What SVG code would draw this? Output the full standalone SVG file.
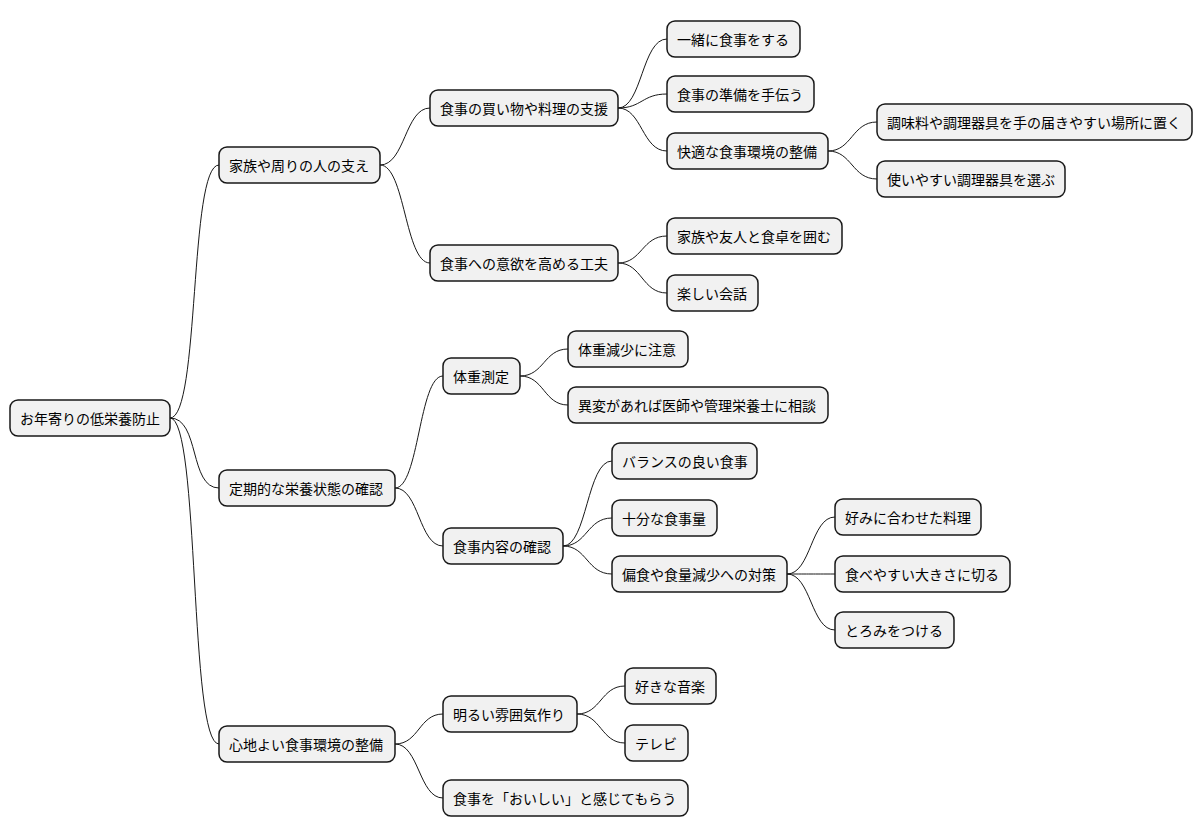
<svg xmlns="http://www.w3.org/2000/svg" width="1202" height="837" viewBox="0 0 1202 837">
<style>
.n rect{fill:#f1f1f1;stroke:#181818;stroke-width:1.5}
.n text{font-family:"Noto Sans CJK JP","Noto Sans",sans-serif;font-size:14px;fill:#000;dominant-baseline:central}
#c path{fill:none;stroke:#181818;stroke-width:1}
</style>
<rect width="1202" height="837" fill="#fff"/>
<g id="c">
<path d="M170,418 C200,418 189,165 219,165"/>
<path d="M170,418 C200,418 189,488 219,488"/>
<path d="M170,418 C200,418 189,744 219,744"/>
<path d="M380,165 C405,165 405,108 430,108"/>
<path d="M380,165 C405,165 405,263 430,263"/>
<path d="M395,488 C419,488 419,376 443,376"/>
<path d="M395,488 C419,488 419,546 443,546"/>
<path d="M395,744 C419,744 419,714 443,714"/>
<path d="M395,744 C419,744 419,798 443,798"/>
<path d="M618,108 C642,108 642,39 667,39"/>
<path d="M618,108 C642,108 642,94 667,94"/>
<path d="M618,108 C642,108 642,151 667,151"/>
<path d="M618,263 C642,263 642,236 667,236"/>
<path d="M618,263 C642,263 642,293 667,293"/>
<path d="M520,376 C544,376 544,349 568,349"/>
<path d="M520,376 C544,376 544,405 568,405"/>
<path d="M563,546 C587,546 587,461 612,461"/>
<path d="M563,546 C587,546 587,518 612,518"/>
<path d="M563,546 C587,546 587,574 612,574"/>
<path d="M577,714 C601,714 601,686 625,686"/>
<path d="M577,714 C601,714 601,743 625,743"/>
<path d="M828,151 C852,151 852,122 877,122"/>
<path d="M828,151 C852,151 852,179 877,179"/>
<path d="M787,574 C811,574 811,517 835,517"/>
<path d="M787,574 C811,574 811,574 835,574"/>
<path d="M787,574 C811,574 811,630 835,630"/>
</g>
<g id="root" class="n"><rect x="10" y="400" width="160" height="36" rx="8"/><text x="20" y="418">お年寄りの低栄養防止</text></g>
<g id="a1" class="n"><rect x="219" y="147" width="161" height="36" rx="8"/><text x="229" y="165">家族や周りの人の支え</text></g>
<g id="a2" class="n"><rect x="219" y="470" width="176" height="36" rx="8"/><text x="229" y="488">定期的な栄養状態の確認</text></g>
<g id="a3" class="n"><rect x="219" y="726" width="176" height="36" rx="8"/><text x="229" y="744">心地よい食事環境の整備</text></g>
<g id="b1" class="n"><rect x="430" y="90" width="188" height="36" rx="8"/><text x="440" y="108">食事の買い物や料理の支援</text></g>
<g id="b2" class="n"><rect x="430" y="245" width="188" height="36" rx="8"/><text x="440" y="263">食事への意欲を高める工夫</text></g>
<g id="b3" class="n"><rect x="443" y="358" width="77" height="36" rx="8"/><text x="453" y="376">体重測定</text></g>
<g id="b4" class="n"><rect x="443" y="528" width="120" height="36" rx="8"/><text x="453" y="546">食事内容の確認</text></g>
<g id="b5" class="n"><rect x="443" y="696" width="134" height="36" rx="8"/><text x="453" y="714">明るい雰囲気作り</text></g>
<g id="b6" class="n"><rect x="443" y="780" width="245" height="36" rx="8"/><text x="453" y="798">食事を「おいしい」と感じてもらう</text></g>
<g id="c1" class="n"><rect x="667" y="21" width="133" height="36" rx="8"/><text x="677" y="39">一緒に食事をする</text></g>
<g id="c2" class="n"><rect x="667" y="76" width="147" height="36" rx="8"/><text x="677" y="94">食事の準備を手伝う</text></g>
<g id="c3" class="n"><rect x="667" y="133" width="161" height="36" rx="8"/><text x="677" y="151">快適な食事環境の整備</text></g>
<g id="c4" class="n"><rect x="667" y="218" width="175" height="36" rx="8"/><text x="677" y="236">家族や友人と食卓を囲む</text></g>
<g id="c5" class="n"><rect x="667" y="275" width="91" height="36" rx="8"/><text x="677" y="293">楽しい会話</text></g>
<g id="c6" class="n"><rect x="568" y="331" width="120" height="36" rx="8"/><text x="578" y="349">体重減少に注意</text></g>
<g id="c7" class="n"><rect x="568" y="387" width="260" height="36" rx="8"/><text x="578" y="405">異変があれば医師や管理栄養士に相談</text></g>
<g id="c8" class="n"><rect x="612" y="443" width="145" height="36" rx="8"/><text x="622" y="461">バランスの良い食事</text></g>
<g id="c9" class="n"><rect x="612" y="500" width="105" height="36" rx="8"/><text x="622" y="518">十分な食事量</text></g>
<g id="c10" class="n"><rect x="612" y="556" width="175" height="36" rx="8"/><text x="622" y="574">偏食や食量減少への対策</text></g>
<g id="c11" class="n"><rect x="625" y="668" width="91" height="36" rx="8"/><text x="635" y="686">好きな音楽</text></g>
<g id="c12" class="n"><rect x="625" y="725" width="63" height="36" rx="8"/><text x="635" y="743">テレビ</text></g>
<g id="d1" class="n"><rect x="877" y="104" width="315" height="36" rx="8"/><text x="887" y="122">調味料や調理器具を手の届きやすい場所に置く</text></g>
<g id="d2" class="n"><rect x="877" y="161" width="188" height="36" rx="8"/><text x="887" y="179">使いやすい調理器具を選ぶ</text></g>
<g id="d3" class="n"><rect x="835" y="499" width="146" height="36" rx="8"/><text x="845" y="517">好みに合わせた料理</text></g>
<g id="d4" class="n"><rect x="835" y="556" width="175" height="36" rx="8"/><text x="845" y="574">食べやすい大きさに切る</text></g>
<g id="d5" class="n"><rect x="835" y="612" width="119" height="36" rx="8"/><text x="845" y="630">とろみをつける</text></g>
</svg>
